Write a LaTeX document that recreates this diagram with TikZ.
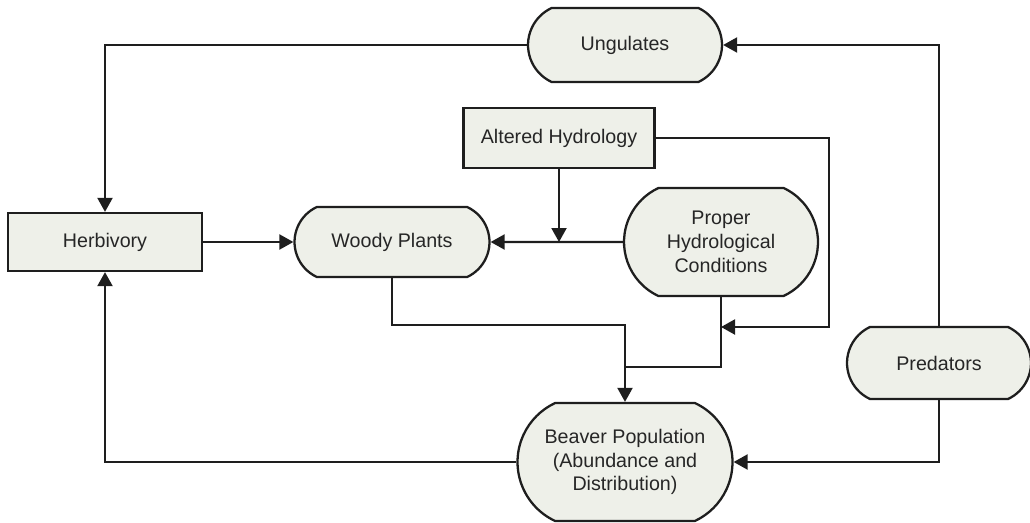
\documentclass[tikz,border=0pt]{standalone}
\usepackage{fontspec}
\setmainfont{Liberation Sans}
\usetikzlibrary{arrows.meta}
\usetikzlibrary{shapes.misc}
\definecolor{boxfill}{RGB}{238,240,233}
\definecolor{inkgray}{RGB}{30,30,30}

\begin{document}
\begin{tikzpicture}[x=0.02cm,y=-0.02cm,
		every node/.style={font=\fontsize{11.2}{13.6}\selectfont,text=black!85,align=center},
		box/.style={draw=inkgray,fill=boxfill,line width=1.3pt,rectangle,inner sep=0pt},
		blob/.style={draw=inkgray,fill=boxfill,line width=1.3pt,rounded rectangle,rounded rectangle arc length=130,inner sep=0pt},
		link/.style={draw=inkgray,line width=1.2pt,-{Triangle[length=0.28cm,width=0.3cm]}}]
		\useasboundingbox (0,0) rectangle (1030,523);

		\node [blob,minimum width=3.88cm,minimum height=1.48cm] (ungulates) at (625,45) {Ungulates};
		\node [box,minimum width=3.82cm,minimum height=1.2cm] (altered) at (559,138) {Altered Hydrology};
		\node [box,minimum width=3.88cm,minimum height=1.16cm] (herbivory) at (105,242) {Herbivory};
		\node [blob,minimum width=3.9cm,minimum height=1.4cm] (woody) at (392,242) {Woody Plants};
		\node [blob,minimum width=3.88cm,minimum height=2.16cm] (proper) at (721,242) {Proper\\Hydrological\\Conditions};
		\node [blob,minimum width=3.68cm,minimum height=1.44cm] (predators) at (939,363) {Predators};
		\node [blob,minimum width=4.3cm,minimum height=2.36cm] (beaver) at (625,462) {Beaver Population\\(Abundance and\\Distribution)};

		\coordinate (hydroturn) at (829,327);
		\coordinate (woodyjoin) at (625,325);
		\coordinate (properjoin) at (625,367);

		\draw [link] (ungulates.west) -| (herbivory.north);
		\draw [link] (predators.north) |- (ungulates.east);
		\draw [link] (predators.south) |- (beaver.east);
		\draw [link] (beaver.west) -| (herbivory.south);
		\draw [link] (herbivory) -- (woody);
		\draw [link] (proper) -- (woody);
		\draw [link] (altered.south) -- (altered.south |- woody.east);
		\draw [link] (altered.east) -| (hydroturn) -- (proper.south |- hydroturn);
		\draw [link] (woody.south) |- (woodyjoin) -- (beaver.north);
		\draw [draw=inkgray,line width=1.2pt] (proper.south) |- (properjoin);
	\end{tikzpicture}
\end{document}
